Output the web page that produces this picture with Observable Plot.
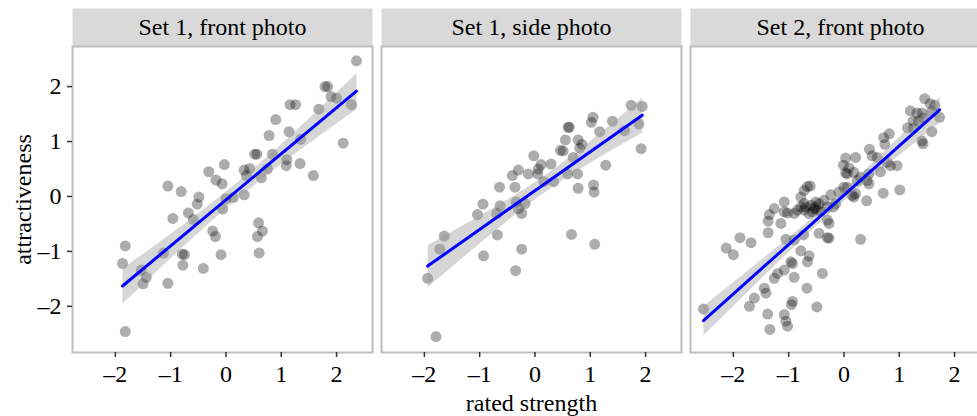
<!DOCTYPE html>
<html>
<head>
<meta charset="utf-8">
<script src="https://cdn.jsdelivr.net/npm/d3@7"></script>
<script src="https://cdn.jsdelivr.net/npm/@observablehq/plot@0.6"></script>
<style>
  html, body { margin: 0; padding: 0; background: white; overflow: hidden; }
  #chart svg { max-width: none !important; }
</style>
</head>
<body>
<div id="chart"></div>
<script>
const panels = ["Set 1, front photo", "Set 1, side photo", "Set 2, front photo"];
const xTicks = [-2, -1, 0, 1, 2];
const yTicks = [-2, -1, 0, 1, 2];
const xLabel = "rated strength";
const yLabel = "attractiveness";

// [rated strength, attractiveness]
const set1Front = [
  [2.36,2.47],[1.79,2.0],[1.84,2.0],[1.90,1.82],[2.0,1.79],[2.27,1.67],[1.68,1.59],
  [1.16,1.67],[1.26,1.67],[0.90,1.40],[0.78,1.11],[1.14,1.18],[1.35,1.04],[2.12,0.97],
  [0.52,0.77],[0.56,0.77],[0.84,0.77],[1.10,0.67],[1.09,0.56],[1.34,0.60],[1.58,0.38],
  [0.33,0.48],[0.43,0.51],[0.37,0.38],[0.75,0.50],[0.64,0.34],[-0.31,0.45],[-0.03,0.58],
  [-0.18,0.30],[-0.07,0.23],[-1.05,0.19],[-0.81,0.09],[-0.49,-0.01],[-0.52,-0.14],
  [0,-0.04],[0.13,-0.02],[0.33,0.03],[-0.06,-0.23],[-0.68,-0.30],[-0.59,-0.42],
  [-0.96,-0.40],[0.59,-0.48],[-0.24,-0.63],[-0.19,-0.73],[0.66,-0.63],[0.57,-0.73],
  [-1.82,-0.90],[-1.87,-1.22],[-1.13,-1.03],[-0.79,-1.05],[-0.75,-1.06],[-0.78,-1.25],
  [-0.09,-1.06],[0.60,-1.03],[-0.41,-1.31],[-1.53,-1.34],[-1.44,-1.47],[-1.50,-1.59],
  [-1.05,-1.58],[-1.82,-2.46]
];
const set1Side = [
  [1.74,1.66],[1.94,1.64],[1.05,1.44],[1.02,1.35],[1.40,1.37],[1.62,1.20],[1.88,1.32],
  [1.17,1.18],[1.92,0.87],[0.60,1.26],[0.62,1.26],[0.55,1.03],[0.78,1.03],[0.85,0.95],
  [0.81,0.88],[0.46,0.84],[0.51,0.83],[0.69,0.71],[1.28,0.57],[-0.02,0.74],[0.11,0.58],
  [0.06,0.50],[0.05,0.41],[0.29,0.59],[-0.30,0.48],[-0.41,0.38],[-0.12,0.41],[0.59,0.41],
  [0.77,0.41],[0.34,0.27],[0.16,0.27],[-0.64,0.17],[-0.36,0.17],[0.78,0.15],[1.06,0.21],
  [1.07,0.08],[-0.34,-0.10],[-0.18,-0.13],[-0.30,-0.22],[-0.24,-0.31],[-0.94,-0.14],
  [-0.63,-0.17],[-1.04,-0.33],[-0.69,-0.31],[-1.64,-0.72],[-0.68,-0.70],[-1.72,-0.96],
  [-0.24,-0.96],[0.66,-0.69],[1.08,-0.87],[-0.93,-1.08],[-0.35,-1.35],[-1.94,-1.49],
  [-1.79,-2.55]
];
const set2Front = [
  [1.46,1.78],[1.56,1.69],[1.64,1.66],[1.20,1.56],[1.32,1.52],[1.41,1.52],[1.59,1.55],
  [1.25,1.37],[1.35,1.37],[1.44,1.43],[1.73,1.44],[1.15,1.25],[1.26,1.24],[1.59,1.18],
  [1.41,1.01],[1.43,0.96],[0.72,1.07],[0.82,1.14],[0.74,0.95],[0.46,0.86],[0.51,0.74],
  [0.60,0.71],[0.78,0.62],[0.84,0.56],[0.96,0.56],[0.66,0.45],[0.45,0.41],[0.03,0.70],
  [0.21,0.71],[-0.01,0.57],[0.09,0.52],[0.03,0.43],[0.06,0.41],[0.18,0.44],[0.30,0.35],
  [0.24,0.29],[0.42,0.29],[0.45,0.23],[0.41,-0.08],[0.71,0.06],[1.01,0.12],[-0.24,0.03],
  [-0.09,0.08],[0.00,0.17],[0.06,0.17],[0.15,0.02],[0.18,-0.01],[0.21,0.05],[-0.15,-0.13],
  [-0.19,-0.19],[-0.66,0.18],[-0.61,0.19],[-0.72,0.11],[-0.78,-0.01],[-1.08,-0.10],
  [-0.72,-0.13],[-0.69,-0.19],[-0.51,-0.10],[-0.45,-0.13],[-0.48,-0.25],[-0.57,-0.28],
  [-0.42,-0.27],[-0.63,-0.31],[-0.36,-0.07],[-0.30,-0.19],[-0.60,-0.16],[-0.54,-0.22],
  [-0.51,-0.19],[-0.72,-0.25],[-0.78,-0.19],[-1.26,-0.22],[-1.35,-0.33],[-1.08,-0.28],
  [-1.02,-0.30],[-1.37,-0.45],[-1.14,-0.49],[-0.90,-0.31],[-0.84,-0.25],[-0.30,-0.43],
  [-0.27,-0.49],[-1.37,-0.66],[-1.88,-0.75],[-1.68,-0.84],[-2.13,-0.94],[-2.00,-1.06],
  [-1.05,-0.78],[-0.90,-0.79],[-0.73,-0.70],[-0.45,-0.67],[-0.30,-0.75],[-0.27,-0.76],
  [0.30,-0.78],[-0.78,-0.99],[-0.63,-1.08],[-0.66,-1.19],[-0.96,-1.19],[-0.93,-1.22],
  [-1.08,-1.34],[-1.20,-1.40],[-1.26,-1.49],[-0.90,-1.47],[-0.39,-1.40],[-1.44,-1.67],
  [-1.41,-1.76],[-1.62,-1.85],[-1.71,-2.00],[-0.67,-1.67],[-0.93,-1.91],[-0.95,-1.97],
  [-0.49,-2.01],[-1.38,-2.14],[-1.08,-2.15],[-1.05,-2.27],[-1.02,-2.36],[-1.34,-2.42],
  [-2.54,-2.05]
];

const points = [
  ...set1Front.map(([x, y]) => ({panel: panels[0], x, y})),
  ...set1Side.map(([x, y]) => ({panel: panels[1], x, y})),
  ...set2Front.map(([x, y]) => ({panel: panels[2], x, y}))
];

const font = "'Liberation Serif', 'Times New Roman', serif";
const fmt = d => (d < 0 ? "\u2013" : "") + Math.abs(d);

const chart = Plot.plot({
  width: 992,
  height: 416,
  marginTop: 46,
  marginBottom: 64,
  marginLeft: 71,
  marginRight: 1,
  style: {fontFamily: font, fontSize: "24px", color: "black", background: "white", maxWidth: "none"},
  fx: {domain: panels, paddingInner: 0.0307, paddingOuter: 0, axis: null, label: null},
  x: {domain: [-2.775, 2.65], label: null},
  y: {domain: [-2.84, 2.73], label: null},
  marks: [
    Plot.frame({fill: "#d9d9d9", insetTop: -38, insetBottom: 306}),
    Plot.text(panels, {fx: d => d, text: d => d, frameAnchor: "top", dy: -19, lineAnchor: "middle", fontSize: 24, fill: "black"}),
    Plot.dot(points, {x: "x", y: "y", fx: "panel", r: 5.5, fill: "black", fillOpacity: 0.32}),
    Plot.linearRegressionY(points, {x: "x", y: "y", fx: "panel", stroke: "#0000ff", strokeWidth: 3, fill: "#999999", fillOpacity: 0.4}),
    Plot.frame({stroke: "#bdbdbd", strokeWidth: 2}),
    Plot.axisX({ticks: xTicks, tickFormat: fmt, tickSize: 5, tickPadding: 7, stroke: "#333", strokeWidth: 1.5, fontSize: 24, label: null}),
    Plot.axisY({ticks: yTicks, tickFormat: fmt, tickSize: 5, tickPadding: 6, stroke: "#333", strokeWidth: 1.5, fontSize: 24, label: null}),
    Plot.text([yLabel], {fx: () => panels[0], text: d => d, frameAnchor: "left", textAnchor: "middle", dx: -49, rotate: -90, lineAnchor: "middle", fontSize: 24}),
    Plot.text([xLabel], {fx: () => panels[1], text: d => d, frameAnchor: "bottom", dy: 51, lineAnchor: "middle", fontSize: 24})
  ]
});
document.getElementById("chart").appendChild(chart);
</script>
</body>
</html>
